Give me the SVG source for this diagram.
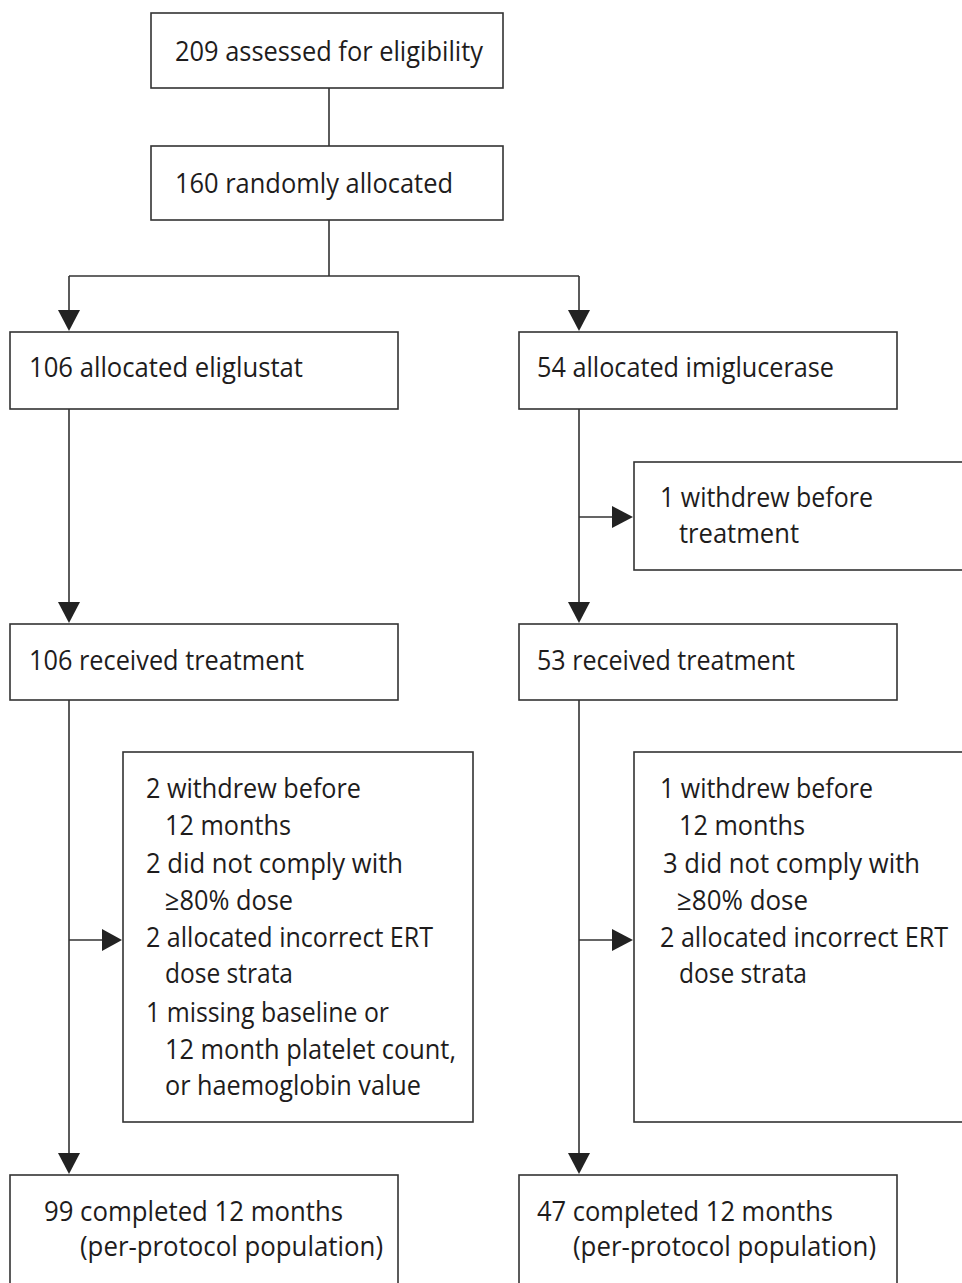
<svg xmlns="http://www.w3.org/2000/svg" width="962" height="1283" viewBox="0 0 962 1283">
  <defs>
    <style>
      .box { fill: #ffffff; stroke: #333333; stroke-width: 1.6; }
      .line { fill: none; stroke: #333333; stroke-width: 1.6; }
      .head { fill: #222222; stroke: none; }
      text { font-family: "Open Sans", "Liberation Sans", sans-serif; font-size: 28px; fill: #1e1c1c; }
    </style>
  </defs>
  <rect x="0" y="0" width="962" height="1283" fill="#ffffff"/>

  <!-- connectors -->
  <g id="connectors">
    <path class="line" d="M329 88 V146"/>
    <path class="line" d="M329 220 V276 M69 276 H579 M69 276 V312 M579 276 V312"/>
    <polygon class="head" points="58,310 80,310 69,331"/>
    <polygon class="head" points="568,310 590,310 579,331"/>
    <path class="line" d="M69 409 V604"/>
    <polygon class="head" points="58,602 80,602 69,623"/>
    <path class="line" d="M579 409 V604 M579 517 H614"/>
    <polygon class="head" points="612,506 612,528 633,517"/>
    <polygon class="head" points="568,602 590,602 579,623"/>
    <path class="line" d="M69 700 V1155 M69 940 H104"/>
    <polygon class="head" points="102,929 102,951 122,940"/>
    <polygon class="head" points="58,1153 80,1153 69,1174"/>
    <path class="line" d="M579 700 V1155 M579 940 H614"/>
    <polygon class="head" points="612,929 612,951 633,940"/>
    <polygon class="head" points="568,1153 590,1153 579,1174"/>
  </g>

  <g id="assessed">
    <rect class="box" x="151" y="13" width="352" height="75"/>
    <text x="175" y="61" textLength="308" lengthAdjust="spacingAndGlyphs">209 assessed for eligibility</text>
  </g>
  <g id="randomised">
    <rect class="box" x="151" y="146" width="352" height="74"/>
    <text x="175" y="193" textLength="278" lengthAdjust="spacingAndGlyphs">160 randomly allocated</text>
  </g>
  <g id="alloc-eliglustat">
    <rect class="box" x="10" y="332" width="388" height="77"/>
    <text x="29" y="377" textLength="274" lengthAdjust="spacingAndGlyphs">106 allocated eliglustat</text>
  </g>
  <g id="alloc-imiglucerase">
    <rect class="box" x="519" y="332" width="378" height="77"/>
    <text x="537" y="377" textLength="297" lengthAdjust="spacingAndGlyphs">54 allocated imiglucerase</text>
  </g>
  <g id="withdrew-pretreatment">
    <rect class="box" x="634" y="462" width="340" height="108"/>
    <text x="660" y="507" textLength="213" lengthAdjust="spacingAndGlyphs">1 withdrew before</text>
    <text x="679" y="543" textLength="120" lengthAdjust="spacingAndGlyphs">treatment</text>
  </g>
  <g id="treated-eliglustat">
    <rect class="box" x="10" y="624" width="388" height="76"/>
    <text x="29" y="670" textLength="275" lengthAdjust="spacingAndGlyphs">106 received treatment</text>
  </g>
  <g id="treated-imiglucerase">
    <rect class="box" x="519" y="624" width="378" height="76"/>
    <text x="537" y="670" textLength="258" lengthAdjust="spacingAndGlyphs">53 received treatment</text>
  </g>
  <g id="excluded-eliglustat">
    <rect class="box" x="123" y="752" width="350" height="370"/>
    <text x="146" y="798" textLength="215" lengthAdjust="spacingAndGlyphs">2 withdrew before</text>
    <text x="165" y="835" textLength="126" lengthAdjust="spacingAndGlyphs">12 months</text>
    <text x="146" y="873" textLength="257" lengthAdjust="spacingAndGlyphs">2 did not comply with</text>
    <text x="165" y="910" textLength="128" lengthAdjust="spacingAndGlyphs">≥80% dose</text>
    <text x="146" y="947" textLength="287" lengthAdjust="spacingAndGlyphs">2 allocated incorrect ERT</text>
    <text x="165" y="983" textLength="128" lengthAdjust="spacingAndGlyphs">dose strata</text>
    <text x="146" y="1022" textLength="243" lengthAdjust="spacingAndGlyphs">1 missing baseline or</text>
    <text x="165" y="1059" textLength="291" lengthAdjust="spacingAndGlyphs">12 month platelet count,</text>
    <text x="165" y="1095" textLength="256" lengthAdjust="spacingAndGlyphs">or haemoglobin value</text>
  </g>
  <g id="excluded-imiglucerase">
    <rect class="box" x="634" y="752" width="340" height="370"/>
    <text x="660" y="798" textLength="213" lengthAdjust="spacingAndGlyphs">1 withdrew before</text>
    <text x="679" y="835" textLength="126" lengthAdjust="spacingAndGlyphs">12 months</text>
    <text x="663" y="873" textLength="257" lengthAdjust="spacingAndGlyphs">3 did not comply with</text>
    <text x="677" y="910" textLength="131" lengthAdjust="spacingAndGlyphs">≥80% dose</text>
    <text x="660" y="947" textLength="288" lengthAdjust="spacingAndGlyphs">2 allocated incorrect ERT</text>
    <text x="679" y="983" textLength="128" lengthAdjust="spacingAndGlyphs">dose strata</text>
  </g>
  <g id="completed-eliglustat">
    <rect class="box" x="10" y="1175" width="388" height="120"/>
    <text x="44" y="1221" textLength="299" lengthAdjust="spacingAndGlyphs">99 completed 12 months</text>
    <text x="80" y="1256" textLength="303" lengthAdjust="spacingAndGlyphs">(per-protocol population)</text>
  </g>
  <g id="completed-imiglucerase">
    <rect class="box" x="519" y="1175" width="378" height="120"/>
    <text x="537" y="1221" textLength="296" lengthAdjust="spacingAndGlyphs">47 completed 12 months</text>
    <text x="573" y="1256" textLength="303" lengthAdjust="spacingAndGlyphs">(per-protocol population)</text>
  </g>
</svg>
